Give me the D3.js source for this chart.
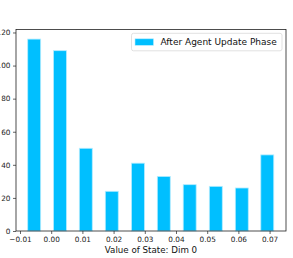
<!DOCTYPE html>
<html>
<head>
<meta charset="utf-8">
<script src="https://cdn.jsdelivr.net/npm/d3@7"></script>
<style>
  html, body { margin: 0; padding: 0; background: #fff; }
  svg { display: block; font-family: "DejaVu Sans", sans-serif; }
</style>
</head>
<body>
<svg id="chart" width="293" height="258"></svg>
<script>
// Histogram bin centers (Value of State: Dim 0)
const binCenters = [-0.00545, 0.00282, 0.01109, 0.01942, 0.02782, 0.03609, 0.04439, 0.05276, 0.06109, 0.06926];
const counts = [116, 109, 50, 24, 41, 33, 28, 27, 26, 46];
const seriesName = "After Agent Update Phase";
const xTicks = [-0.01, 0.00, 0.01, 0.02, 0.03, 0.04, 0.05, 0.06, 0.07];
const yTicks = [0, 20, 40, 60, 80, 100, 120];
const barWidthData = 0.00415;

const svg = d3.select("#chart");
const mLeft = 16, mRight = 286, mTop = 29.5, mBottom = 231;

const x = d3.scaleLinear().domain([-0.01128, 0.07526]).range([mLeft, mRight]);
const y = d3.scaleLinear().domain([0, 121.8]).range([mBottom, mTop]);

const data = binCenters.map((c, i) => ({c, v: counts[i]}));

svg.append("g").selectAll("rect").data(data).join("rect")
  .attr("x", d => x(d.c - barWidthData / 2))
  .attr("width", d => x(d.c + barWidthData / 2) - x(d.c - barWidthData / 2))
  .attr("y", d => y(d.v))
  .attr("height", d => y(0) - y(d.v))
  .attr("fill", "#00bfff")
  .attr("stroke", "#b3ecff")
  .attr("stroke-width", 0.8);

// axes
const fmt = d => (d < 0 ? "\u2212" : "") + Math.abs(d).toFixed(2);
const xAxis = d3.axisBottom(x).tickValues(xTicks).tickFormat(fmt).tickSize(3).tickPadding(2.5);
const yAxis = d3.axisLeft(y).tickValues(yTicks).tickFormat(d3.format("d")).tickSize(3).tickPadding(2.5);

const gx = svg.append("g").attr("transform", `translate(0,${mBottom})`).call(xAxis);
const gy = svg.append("g").attr("transform", `translate(${mLeft},0)`).call(yAxis);
[gx, gy].forEach(g => {
  g.select(".domain").remove();
  g.selectAll(".tick line").attr("stroke", "#222").attr("stroke-width", 0.7);
  g.selectAll(".tick text").attr("fill", "#222").style("font-size", "7.3px").style("font-family", "DejaVu Sans");
});

// frame
svg.append("rect").attr("x", mLeft).attr("y", mTop).attr("width", mRight - mLeft).attr("height", mBottom - mTop)
  .attr("fill", "none").attr("stroke", "#222").attr("stroke-width", 0.8);

// x label
svg.append("text").attr("x", (mLeft + mRight) / 2).attr("y", 253)
  .attr("text-anchor", "middle").attr("fill", "#111")
  .style("font-size", "8.7px").text("Value of State: Dim 0");

// legend
const lg = svg.append("g");
lg.append("rect").attr("x", 131.5).attr("y", 33.3).attr("width", 150.5).attr("height", 17.5)
  .attr("rx", 2).attr("fill", "#fff").attr("fill-opacity", 0.8)
  .attr("stroke", "#d9d9d9").attr("stroke-width", 0.8);
lg.append("rect").attr("x", 135).attr("y", 38.8).attr("width", 18.5).attr("height", 6.5)
  .attr("fill", "#00bfff").attr("stroke", "#b3ecff").attr("stroke-width", 0.6);
lg.append("text").attr("x", 160.5).attr("y", 45).attr("fill", "#111")
  .style("font-size", "9px").text(seriesName);
</script>
</body>
</html>
